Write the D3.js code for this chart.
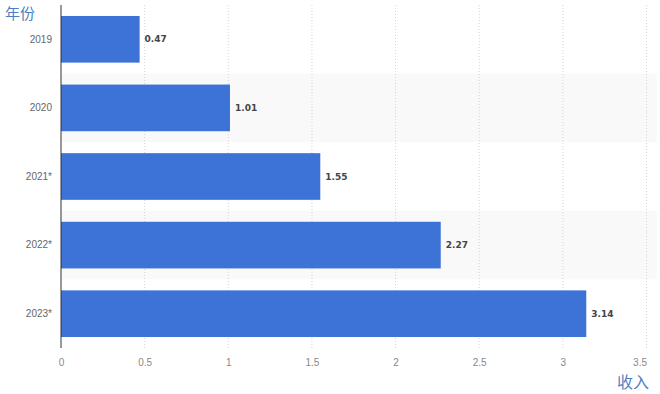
<!DOCTYPE html>
<html>
<head>
<meta charset="utf-8">
<script src="https://cdn.jsdelivr.net/npm/d3@7"></script>
<style>
  body { margin: 0; background: #fff; }
  svg { font-family: "DejaVu Sans", sans-serif; }
</style>
</head>
<body>
<div id="chart"></div>
<script>
// data
const years = ['2019', '2020', '2021*', '2022*', '2023*'];
const revenue = [0.47, 1.01, 1.55, 2.27, 3.14];
const xTicks = [0, 0.5, 1, 1.5, 2, 2.5, 3, 3.5];

const width = 660;
const height = 394;
const margin = {top: 5, right: 14, bottom: 46, left: 61};

const svg = d3.select('#chart')
  .append('svg')
  .attr('width', width)
  .attr('height', height);

const x = d3.scaleLinear()
  .domain([0, 3.5])
  .range([margin.left, 646.5]);

const y = d3.scaleBand()
  .domain(years)
  .range([margin.top, height - margin.bottom])
  .paddingInner(0.32)
  .paddingOuter(0.16);

const step = y.step();

// alternating band backgrounds
svg.append('g')
  .selectAll('rect')
  .data(years.filter((d, i) => i % 2 === 1))
  .enter()
  .append('rect')
  .attr('x', margin.left)
  .attr('y', d => y(d) + y.bandwidth() / 2 - step / 2)
  .attr('width', width - margin.left - 3)
  .attr('height', step)
  .attr('fill', '#f9f9f9');

// grid
svg.append('g')
  .selectAll('line')
  .data(xTicks.slice(1))
  .enter()
  .append('line')
  .attr('x1', d => x(d))
  .attr('x2', d => x(d))
  .attr('y1', margin.top)
  .attr('y2', height - margin.bottom)
  .attr('stroke', '#d4d4d4')
  .attr('stroke-dasharray', '1,2');

// bars
svg.append('g')
  .selectAll('rect')
  .data(revenue)
  .enter()
  .append('rect')
  .attr('x', x(0))
  .attr('y', (d, i) => y(years[i]))
  .attr('width', d => x(d) - x(0))
  .attr('height', y.bandwidth())
  .attr('fill', '#3d72d6');

// value labels
svg.append('g')
  .selectAll('text')
  .data(revenue)
  .enter()
  .append('text')
  .attr('x', d => x(d) + 5)
  .attr('y', (d, i) => y(years[i]) + y.bandwidth() / 2)
  .attr('dy', '0.35em')
  .attr('font-size', 9)
  .attr('font-weight', 'bold')
  .attr('fill', '#444')
  .text(d => d.toFixed(2));

// axis line
svg.append('line')
  .attr('x1', x(0))
  .attr('x2', x(0))
  .attr('y1', margin.top)
  .attr('y2', height - margin.bottom)
  .attr('stroke', '#333')
  .attr('stroke-width', 1);

// x axis
const xAxis = svg.append('g')
  .attr('transform', 'translate(0,' + (height - margin.bottom) + ')')
  .call(d3.axisBottom(x).tickValues(xTicks).tickSize(0).tickPadding(11).tickFormat(d3.format('')));
xAxis.select('.domain').remove();
xAxis.selectAll('text')
  .attr('font-size', 10)
  .attr('fill', '#888');
// last label kept inside the plot
xAxis.selectAll('.tick')
  .filter(d => d === xTicks[xTicks.length - 1])
  .select('text')
  .attr('text-anchor', 'end');

// y axis
const yAxis = svg.append('g')
  .attr('transform', 'translate(' + margin.left + ',0)')
  .call(d3.axisLeft(y).tickSize(0).tickPadding(9));
yAxis.select('.domain').remove();
yAxis.selectAll('text')
  .attr('font-size', 10)
  .attr('fill', '#666');

// axis titles
svg.append('text')
  .attr('x', 5)
  .attr('y', 19)
  .attr('font-size', 15)
  .attr('fill', '#4d7fc0')
  .style('font-family', '"Noto Sans CJK SC", sans-serif')
  .text('年份');

svg.append('text')
  .attr('x', 649)
  .attr('y', 388)
  .attr('text-anchor', 'end')
  .attr('font-size', 16)
  .attr('fill', '#4d7fc0')
  .style('font-family', '"Noto Sans CJK SC", sans-serif')
  .text('收入');
</script>
</body>
</html>
